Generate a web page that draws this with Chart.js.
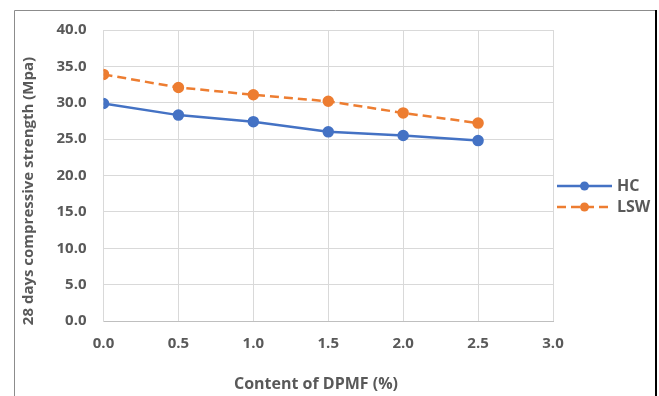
<!DOCTYPE html>
<html>
<head>
<meta charset="utf-8">
<script src="https://cdn.jsdelivr.net/npm/chart.js@4.4.0/dist/chart.umd.min.js"></script>
<style>
  html, body { margin: 0; padding: 0; background: #ffffff; }
  #wrap { width: 659px; height: 396px; position: relative; }
</style>
</head>
<body>
<div id="wrap"><canvas id="c" width="659" height="396"></canvas></div>
<script>
const xValues = [0.0, 0.5, 1.0, 1.5, 2.0, 2.5];
const hcValues = [29.9, 28.3, 27.4, 26.0, 25.5, 24.8];
const lswValues = [33.9, 32.1, 31.1, 30.2, 28.6, 27.2];
const seriesNames = ['HC', 'LSW'];
const xTitle = 'Content of DPMF (%)';
const yTitle = '28 days compressive strength (Mpa)';

const TEXT = '#595959';
const FONT = 'Open Sans';
const BLUE = '#4472c4';
const ORANGE = '#ed7d31';
const LSW_DASH = [9, 5];

const toPoints = (vals) => xValues.map((x, i) => ({ x: x, y: vals[i] }));

const decor = {
  id: 'decor',
  afterDraw(chart) {
    const ctx = chart.ctx;
    ctx.save();
    // frame
    ctx.strokeStyle = '#8c8c8c';
    ctx.lineWidth = 1;
    ctx.beginPath();
    ctx.moveTo(14.5, 396); ctx.lineTo(14.5, 10.5); ctx.lineTo(656, 10.5);
    ctx.stroke();
    ctx.strokeStyle = '#000000';
    ctx.lineWidth = 2;
    ctx.beginPath();
    ctx.moveTo(656, 10); ctx.lineTo(656, 396);
    ctx.stroke();

    // axis titles
    ctx.fillStyle = TEXT;
    ctx.textAlign = 'center';
    ctx.textBaseline = 'middle';
    ctx.font = 'bold 16px "' + FONT + '"';
    ctx.fillText(xTitle, 316, 384);
    ctx.font = 'bold 15px "' + FONT + '"';
    ctx.save();
    ctx.translate(28.5, 191);
    ctx.rotate(-Math.PI / 2);
    ctx.fillText(yTitle, 0, 0);
    ctx.restore();

    // legend
    const ds = chart.data.datasets;
    const rows = [186, 207];
    ds.forEach((d, i) => {
      const y = rows[i];
      ctx.strokeStyle = d.borderColor;
      ctx.lineWidth = d.borderWidth;
      ctx.setLineDash(d.borderDash || []);
      ctx.beginPath();
      ctx.moveTo(557, y); ctx.lineTo(612, y);
      ctx.stroke();
      ctx.setLineDash([]);
      ctx.fillStyle = d.pointBackgroundColor;
      ctx.beginPath();
      ctx.arc(584.5, y, d.pointRadius, 0, Math.PI * 2);
      ctx.fill();
      ctx.fillStyle = TEXT;
      ctx.textAlign = 'left';
      ctx.font = 'bold 16px "' + FONT + '"';
      ctx.fillText(d.label, 617, y);
    });
    ctx.restore();
  }
};

new Chart(document.getElementById('c'), {
  type: 'line',
  data: {
    datasets: [
      {
        label: seriesNames[0],
        data: toPoints(hcValues),
        borderColor: BLUE,
        backgroundColor: BLUE,
        pointBackgroundColor: BLUE,
        pointBorderColor: BLUE,
        borderWidth: 2.5,
        pointRadius: 4.5,
        pointHoverRadius: 4.5,
        tension: 0
      },
      {
        label: seriesNames[1],
        data: toPoints(lswValues),
        borderColor: ORANGE,
        backgroundColor: ORANGE,
        pointBackgroundColor: ORANGE,
        pointBorderColor: ORANGE,
        borderWidth: 2.5,
        borderDash: LSW_DASH,
        pointRadius: 4.5,
        pointHoverRadius: 4.5,
        tension: 0
      }
    ]
  },
  options: {
    responsive: false,
    animation: false,
    events: [],
    layout: { padding: { left: 14, top: 30, right: 106, bottom: 0 } },
    plugins: {
      legend: { display: false },
      tooltip: { enabled: false },
      title: { display: false }
    },
    scales: {
      x: {
        type: 'linear',
        min: 0,
        max: 3,
        ticks: {
          stepSize: 0.5,
          color: TEXT,
          font: { family: FONT, size: 15, weight: 'bold' },
          padding: 14,
          callback: (v) => Number(v).toFixed(1)
        },
        grid: { color: '#d9d9d9', lineWidth: 1, drawTicks: false },
        border: { color: '#bfbfbf', width: 1 },
        afterFit(s) { s.height = 75; }
      },
      y: {
        min: 0,
        max: 40,
        ticks: {
          stepSize: 5,
          color: TEXT,
          font: { family: FONT, size: 15, weight: 'bold' },
          padding: 17,
          callback: (v) => Number(v).toFixed(1)
        },
        grid: { color: '#d9d9d9', lineWidth: 1, drawTicks: false },
        border: { color: '#d9d9d9', width: 1 },
        afterFit(s) { s.width = 89.5; }
      }
    }
  },
  plugins: [decor]
});
</script>
</body>
</html>
